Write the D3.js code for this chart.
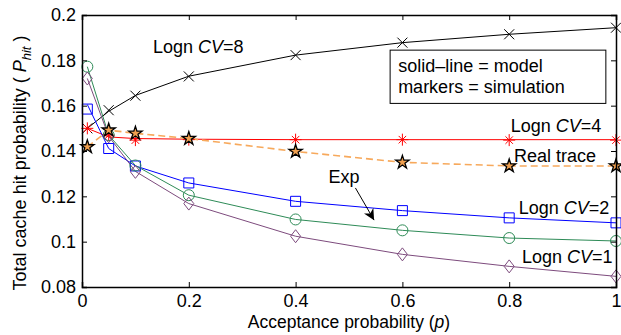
<!DOCTYPE html>
<html>
<head>
<meta charset="utf-8">
<script src="https://cdn.jsdelivr.net/npm/d3@7"></script>
<style>
  body { margin: 0; background: #fff; }
  svg { font-family: "Liberation Sans", Arial, sans-serif; }
</style>
</head>
<body>
<svg id="chart" width="621" height="335"></svg>
<script>
// acceptance probability values
const pValues = [0.01, 0.05, 0.1, 0.2, 0.4, 0.6, 0.8, 1];
const xTicks = [0, 0.2, 0.4, 0.6, 0.8, 1];
const yTicks = [0.08, 0.1, 0.12, 0.14, 0.16, 0.18, 0.2];

// model (solid line) and simulation (markers)
const cv8Model = [0.150, 0.1575, 0.1645, 0.1730, 0.1823, 0.1878, 0.1915, 0.1944];
const cv8Sim   = [0.150, 0.1580, 0.1644, 0.1729, 0.1823, 0.1878, 0.1915, 0.1944];
const cv4Model = [0.150, 0.1462, 0.1455, 0.1452, 0.1450, 0.1450, 0.1450, 0.1450];
const cv4Sim   = [0.150, 0.1470, 0.1448, 0.1450, 0.1450, 0.1450, 0.1448, 0.1448];
const realTrace = [0.1418, 0.1492, 0.1478, 0.1455, 0.1398, 0.1350, 0.1334, 0.1334];
const cv2Model = [0.1605, 0.1411, 0.1334, 0.1259, 0.1178, 0.1137, 0.1105, 0.1083];
const cv2Sim   = [0.1585, 0.1411, 0.1334, 0.1259, 0.1178, 0.1137, 0.1105, 0.1083];
const expModel = [0.1772, 0.1470, 0.1336, 0.1205, 0.1098, 0.1050, 0.1016, 0.1003];
const expSim   = [0.1772, 0.1470, 0.1336, 0.1205, 0.1098, 0.1050, 0.1016, 0.1003];
const cv1Model = [0.1720, 0.1465, 0.1310, 0.1168, 0.1024, 0.0944, 0.0891, 0.0847];
const cv1Sim   = [0.1720, 0.1465, 0.1308, 0.1168, 0.1024, 0.0944, 0.0891, 0.0847];

const svg = d3.select("#chart");
const margin = {top: 15, right: 5, bottom: 48, left: 82};
const width = 621 - margin.left - margin.right;
const height = 335 - margin.top - margin.bottom;
const fontSize = 18;

const x = d3.scaleLinear().domain([0, 1]).range([margin.left, margin.left + width]);
const y = d3.scaleLinear().domain([0.08, 0.2]).range([margin.top + height, margin.top]);

const series = [
    {model: cv8Model, sim: cv8Sim, color: "#000000", marker: "times"},
    {model: cv4Model, sim: cv4Sim, color: "#ff0000", marker: "asterisk"},
    {model: cv2Model, sim: cv2Sim, color: "#0000ff", marker: "square"},
    {model: expModel, sim: expSim, color: "#2e8b57", marker: "circle"},
    {model: cv1Model, sim: cv1Sim, color: "#7d4b7d", marker: "diamond"}
];

const line = d3.line().x((d, i) => x(pValues[i])).y(d => y(d));

// model lines
series.forEach(s => {
    svg.append("path")
        .attr("d", line(s.model))
        .attr("fill", "none")
        .attr("stroke", s.color)
        .attr("stroke-width", 1);
});

// real trace dashed line
svg.append("path")
    .attr("d", line(realTrace))
    .attr("fill", "none")
    .attr("stroke", "#f7a95c")
    .attr("stroke-width", 1.6)
    .attr("stroke-dasharray", "7,4");

function markerPath(type) {
    const r = 5;
    if (type === "times") return `M${-r},${-r}L${r},${r}M${-r},${r}L${r},${-r}`;
    if (type === "asterisk") {
        const a = r * 0.75;
        return `M0,${-r - 1}V${r + 1}M${-r - 1},0H${r + 1}M${-a},${-a}L${a},${a}M${-a},${a}L${a},${-a}`;
    }
    if (type === "square") return `M-5,-5H5V5H-5Z`;
    if (type === "diamond") return `M0,-6.5L5,0L0,6.5L-5,0Z`;
    if (type === "circle") return d3.symbol(d3.symbolCircle, 95)();
    return d3.symbol(d3.symbolStar, 55)();
}

// simulation markers
series.forEach(s => {
    svg.append("g").selectAll("path")
        .data(s.sim)
        .enter()
        .append("path")
        .attr("transform", (d, i) => `translate(${x(pValues[i])},${y(d)})`)
        .attr("d", markerPath(s.marker))
        .attr("fill", "none")
        .attr("stroke", s.color)
        .attr("stroke-width", 1);
});

svg.append("g").selectAll("path")
    .data(realTrace)
    .enter()
    .append("path")
    .attr("transform", (d, i) => `translate(${x(pValues[i])},${y(d)})`)
    .attr("d", markerPath("star"))
    .attr("fill", "#f0a050")
    .attr("stroke", "#000")
    .attr("stroke-width", 1.3);

// axes (box with inward ticks)
const tickLen = 5;
svg.append("g").attr("transform", `translate(0,${y(0.08)})`)
    .call(d3.axisBottom(x).tickValues(xTicks).tickSize(-tickLen).tickPadding(7).tickFormat(d3.format("")));
svg.append("g").attr("transform", `translate(0,${y(0.2)})`)
    .call(d3.axisTop(x).tickValues(xTicks).tickSize(-tickLen).tickFormat(""));
svg.append("g").attr("transform", `translate(${x(0)},0)`)
    .call(d3.axisLeft(y).tickValues(yTicks).tickSize(-tickLen).tickPadding(6).tickFormat(d3.format("")));
svg.append("g").attr("transform", `translate(${x(1)},0)`)
    .call(d3.axisRight(y).tickValues(yTicks).tickSize(-tickLen).tickFormat(""));

svg.selectAll(".domain").attr("stroke", "#000").attr("stroke-width", 1.5);
svg.selectAll(".tick line").attr("stroke", "#000").attr("stroke-width", 1);
svg.selectAll(".tick text").attr("font-size", fontSize).attr("fill", "#000")
    .attr("font-family", "Liberation Sans, Arial, sans-serif");

// legend box
svg.append("rect")
    .attr("x", x(0.577)).attr("y", y(0.1845))
    .attr("width", x(0.981) - x(0.577)).attr("height", y(0.161) - y(0.1845))
    .attr("fill", "#fff").attr("stroke", "#000").attr("stroke-width", 1);
const legendLines = ["solid\u2013line = model", "markers = simulation"];
svg.selectAll(".legtext")
    .data(legendLines)
    .enter()
    .append("text")
    .attr("x", x(0.592))
    .attr("y", (d, i) => y([0.1748, 0.1655][i]))
    .attr("font-size", fontSize)
    .text(d => d);

// curve labels
const labels = [
    {name: "Logn ", cv: "8", p: 0.133, v: 0.1832},
    {name: "Logn ", cv: "4", p: 0.803, v: 0.1483},
    {name: "Logn ", cv: "2", p: 0.818, v: 0.1124},
    {name: "Logn ", cv: "1", p: 0.824, v: 0.0904}
];
labels.forEach(l => {
    const t = svg.append("text").attr("x", x(l.p)).attr("y", y(l.v)).attr("font-size", fontSize);
    t.append("tspan").text(l.name);
    t.append("tspan").attr("font-style", "italic").text("CV");
    t.append("tspan").text("=" + l.cv);
});
svg.append("text").attr("x", x(0.809)).attr("y", y(0.1351)).attr("font-size", fontSize).text("Real trace");
svg.append("text").attr("x", x(0.4615)).attr("y", y(0.1258)).attr("font-size", fontSize).text("Exp");

// arrow for Exp
svg.append("defs").append("marker")
    .attr("id", "arrowhead")
    .attr("viewBox", "0 0 10 10")
    .attr("refX", 10).attr("refY", 5)
    .attr("markerWidth", 11).attr("markerHeight", 11)
    .attr("markerUnits", "userSpaceOnUse")
    .attr("orient", "auto")
    .append("path").attr("d", "M0,0L10,5L0,10L3,5Z").attr("fill", "#000");
svg.append("line")
    .attr("x1", x(0.512)).attr("y1", y(0.1237))
    .attr("x2", x(0.547)).attr("y2", y(0.1095))
    .attr("stroke", "#000").attr("stroke-width", 1)
    .attr("marker-end", "url(#arrowhead)");

// axis labels
const xl = svg.append("text")
    .attr("x", (x(0) + x(1)) / 2).attr("y", 328)
    .attr("text-anchor", "middle").attr("font-size", 17.5);
xl.append("tspan").text("Acceptance probability (");
xl.append("tspan").attr("font-style", "italic").text("p");
xl.append("tspan").text(")");

const yl = svg.append("text")
    .attr("transform", "translate(26,163) rotate(-90)")
    .attr("text-anchor", "middle").attr("font-size", fontSize);
yl.append("tspan").text("Total cache hit probability ( ");
yl.append("tspan").attr("font-style", "italic").text("P");
yl.append("tspan").attr("font-style", "italic").attr("font-size", 13).attr("dy", 5).text("hit");
yl.append("tspan").attr("dy", -5).text(" )");
</script>
</body>
</html>
